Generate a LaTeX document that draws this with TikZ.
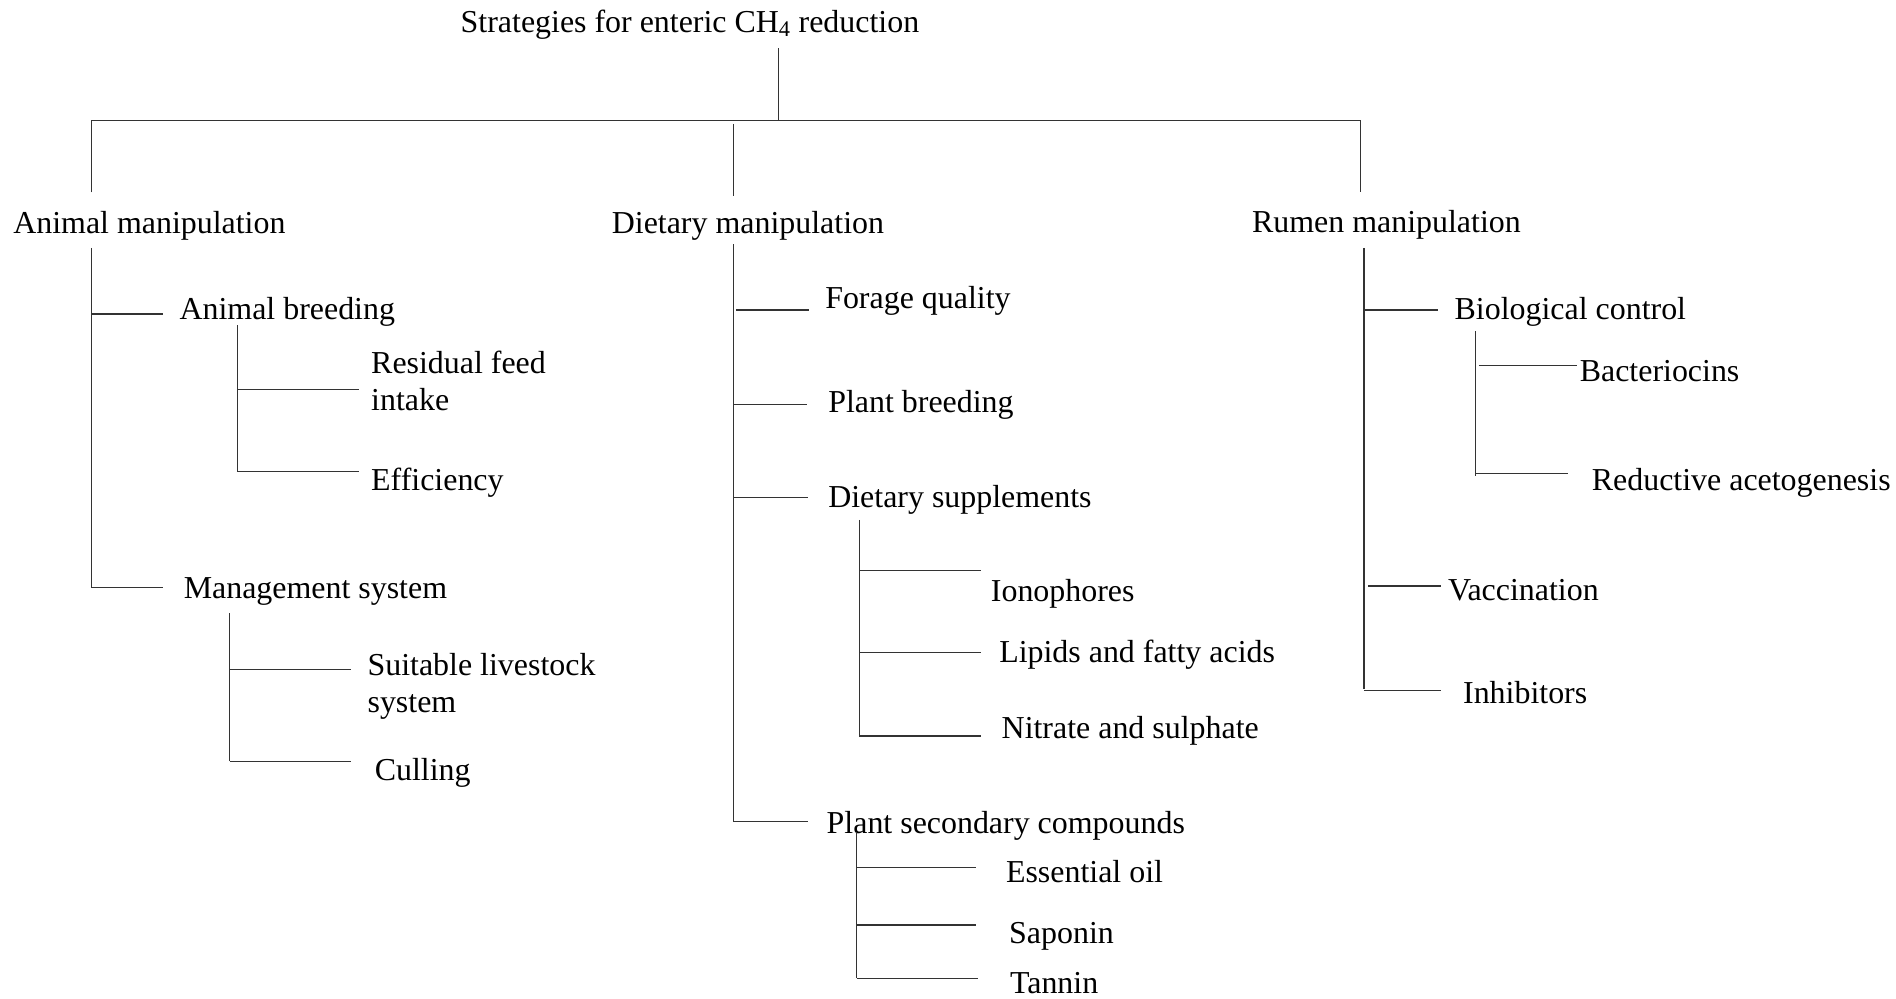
\documentclass[tikz,border=0pt]{standalone}
\usepackage{fontspec}
\setmainfont{Liberation Serif}
\begin{document}
\begin{tikzpicture}[x=1pt,y=-1pt,
  lbl/.style={anchor=base west,inner sep=0pt,outer sep=0pt,yshift=-1.5pt,font=\fontsize{26.4}{30.5}\selectfont},
  ln/.style={line width=0.9pt,draw=black!80}]
\useasboundingbox (0,0) rectangle (1568,826.1);
% texts
\node[lbl] (root) at (381,25) {Strategies for enteric CH\textsubscript{4} reduction};
\node[lbl] (anim) at (11,191.5) {Animal manipulation};
\node[lbl] (diet) at (506,192) {Dietary manipulation};
\node[lbl] (rumen) at (1035.5,190.5) {Rumen manipulation};
\node[lbl] (abreed) at (148.5,262.5) {Animal breeding};
\node[lbl] (rfi) at (307,307.5) {\begin{tabular}[t]{@{}l@{}}Residual feed\\intake\end{tabular}};
\node[lbl] (eff) at (307,404) {Efficiency};
\node[lbl] (mgmt) at (152,493.5) {Management system};
\node[lbl] (suit) at (304,557) {\begin{tabular}[t]{@{}l@{}}Suitable livestock\\system\end{tabular}};
\node[lbl] (cull) at (310,644) {Culling};
\node[lbl] (forage) at (682.5,253.5) {Forage quality};
\node[lbl] (pbreed) at (685,339.5) {Plant breeding};
\node[lbl] (supp) at (685,418) {Dietary supplements};
\node[lbl] (iono) at (819.5,496) {Ionophores};
\node[lbl] (lipid) at (826.4,546) {Lipids and fatty acids};
\node[lbl] (nitr) at (828.4,609) {Nitrate and sulphate};
\node[lbl] (psc) at (683.7,688) {Plant secondary compounds};
\node[lbl] (eoil) at (832,728) {Essential oil};
\node[lbl] (sap) at (834.6,779) {Saponin};
\node[lbl] (tan) at (835.3,820.5) {Tannin};
\node[lbl] (bio) at (1203,263) {Biological control};
\node[lbl] (bact) at (1306.5,314) {Bacteriocins};
\node[lbl] (redac) at (1316.5,404) {Reductive acetogenesis};
\node[lbl] (vacc) at (1197.5,495) {Vaccination};
\node[lbl] (inhib) at (1210,580) {Inhibitors};
% top level
\draw[ln] (643.5,40) -- (643.5,99.5);
\draw[ln] (75.5,159) -- (75.5,99.5) -- (1125.5,99.5) -- (1125.5,159);
\draw[ln] (606.5,102.5) -- (606.5,162);
% animal
\draw[ln] (75.5,205) -- (75.5,486);
\draw[ln] (75.5,259.7) -- (135,259.7);
\draw[ln] (75.5,486) -- (135,486);
\draw[ln] (196.5,269) -- (196.5,390);
\draw[ln] (196.5,322) -- (296.5,322);
\draw[ln] (196.5,390) -- (296.5,390);
\draw[ln] (190,507) -- (190,629.4);
\draw[ln] (190,553.6) -- (290,553.6);
\draw[ln] (190,629.4) -- (290,629.4);
% dietary
\draw[ln] (606.5,202) -- (606.5,679.6);
\draw[ln] (609,256.4) -- (669,256.4);
\draw[ln] (606.5,334.4) -- (667.5,334.4);
\draw[ln] (607,411.6) -- (668,411.6);
\draw[ln] (606.5,679.6) -- (668.6,679.6);
\draw[ln] (710.5,430) -- (710.5,608.7);
\draw[ln] (710.5,472) -- (811.5,472);
\draw[ln] (710.5,539.5) -- (811.5,539.5);
\draw[ln] (710.5,608.7) -- (811.5,608.7);
\draw[ln] (708.4,688) -- (708.4,809);
\draw[ln] (708.4,717.6) -- (807,717.6);
\draw[ln] (708.4,765) -- (807.5,765);
\draw[ln] (708.4,809) -- (809,809);
% rumen
\draw[ln] (1128,205) -- (1128,570);
\draw[ln] (1129,256.4) -- (1189,256.4);
\draw[ln] (1131.6,484.6) -- (1192,484.6);
\draw[ln] (1128,571) -- (1192,571);
\draw[ln] (1220,274) -- (1220,394);
\draw[ln] (1223,302) -- (1304,302);
\draw[ln] (1220,391.5) -- (1296.5,391.5);
\end{tikzpicture}
\end{document}
